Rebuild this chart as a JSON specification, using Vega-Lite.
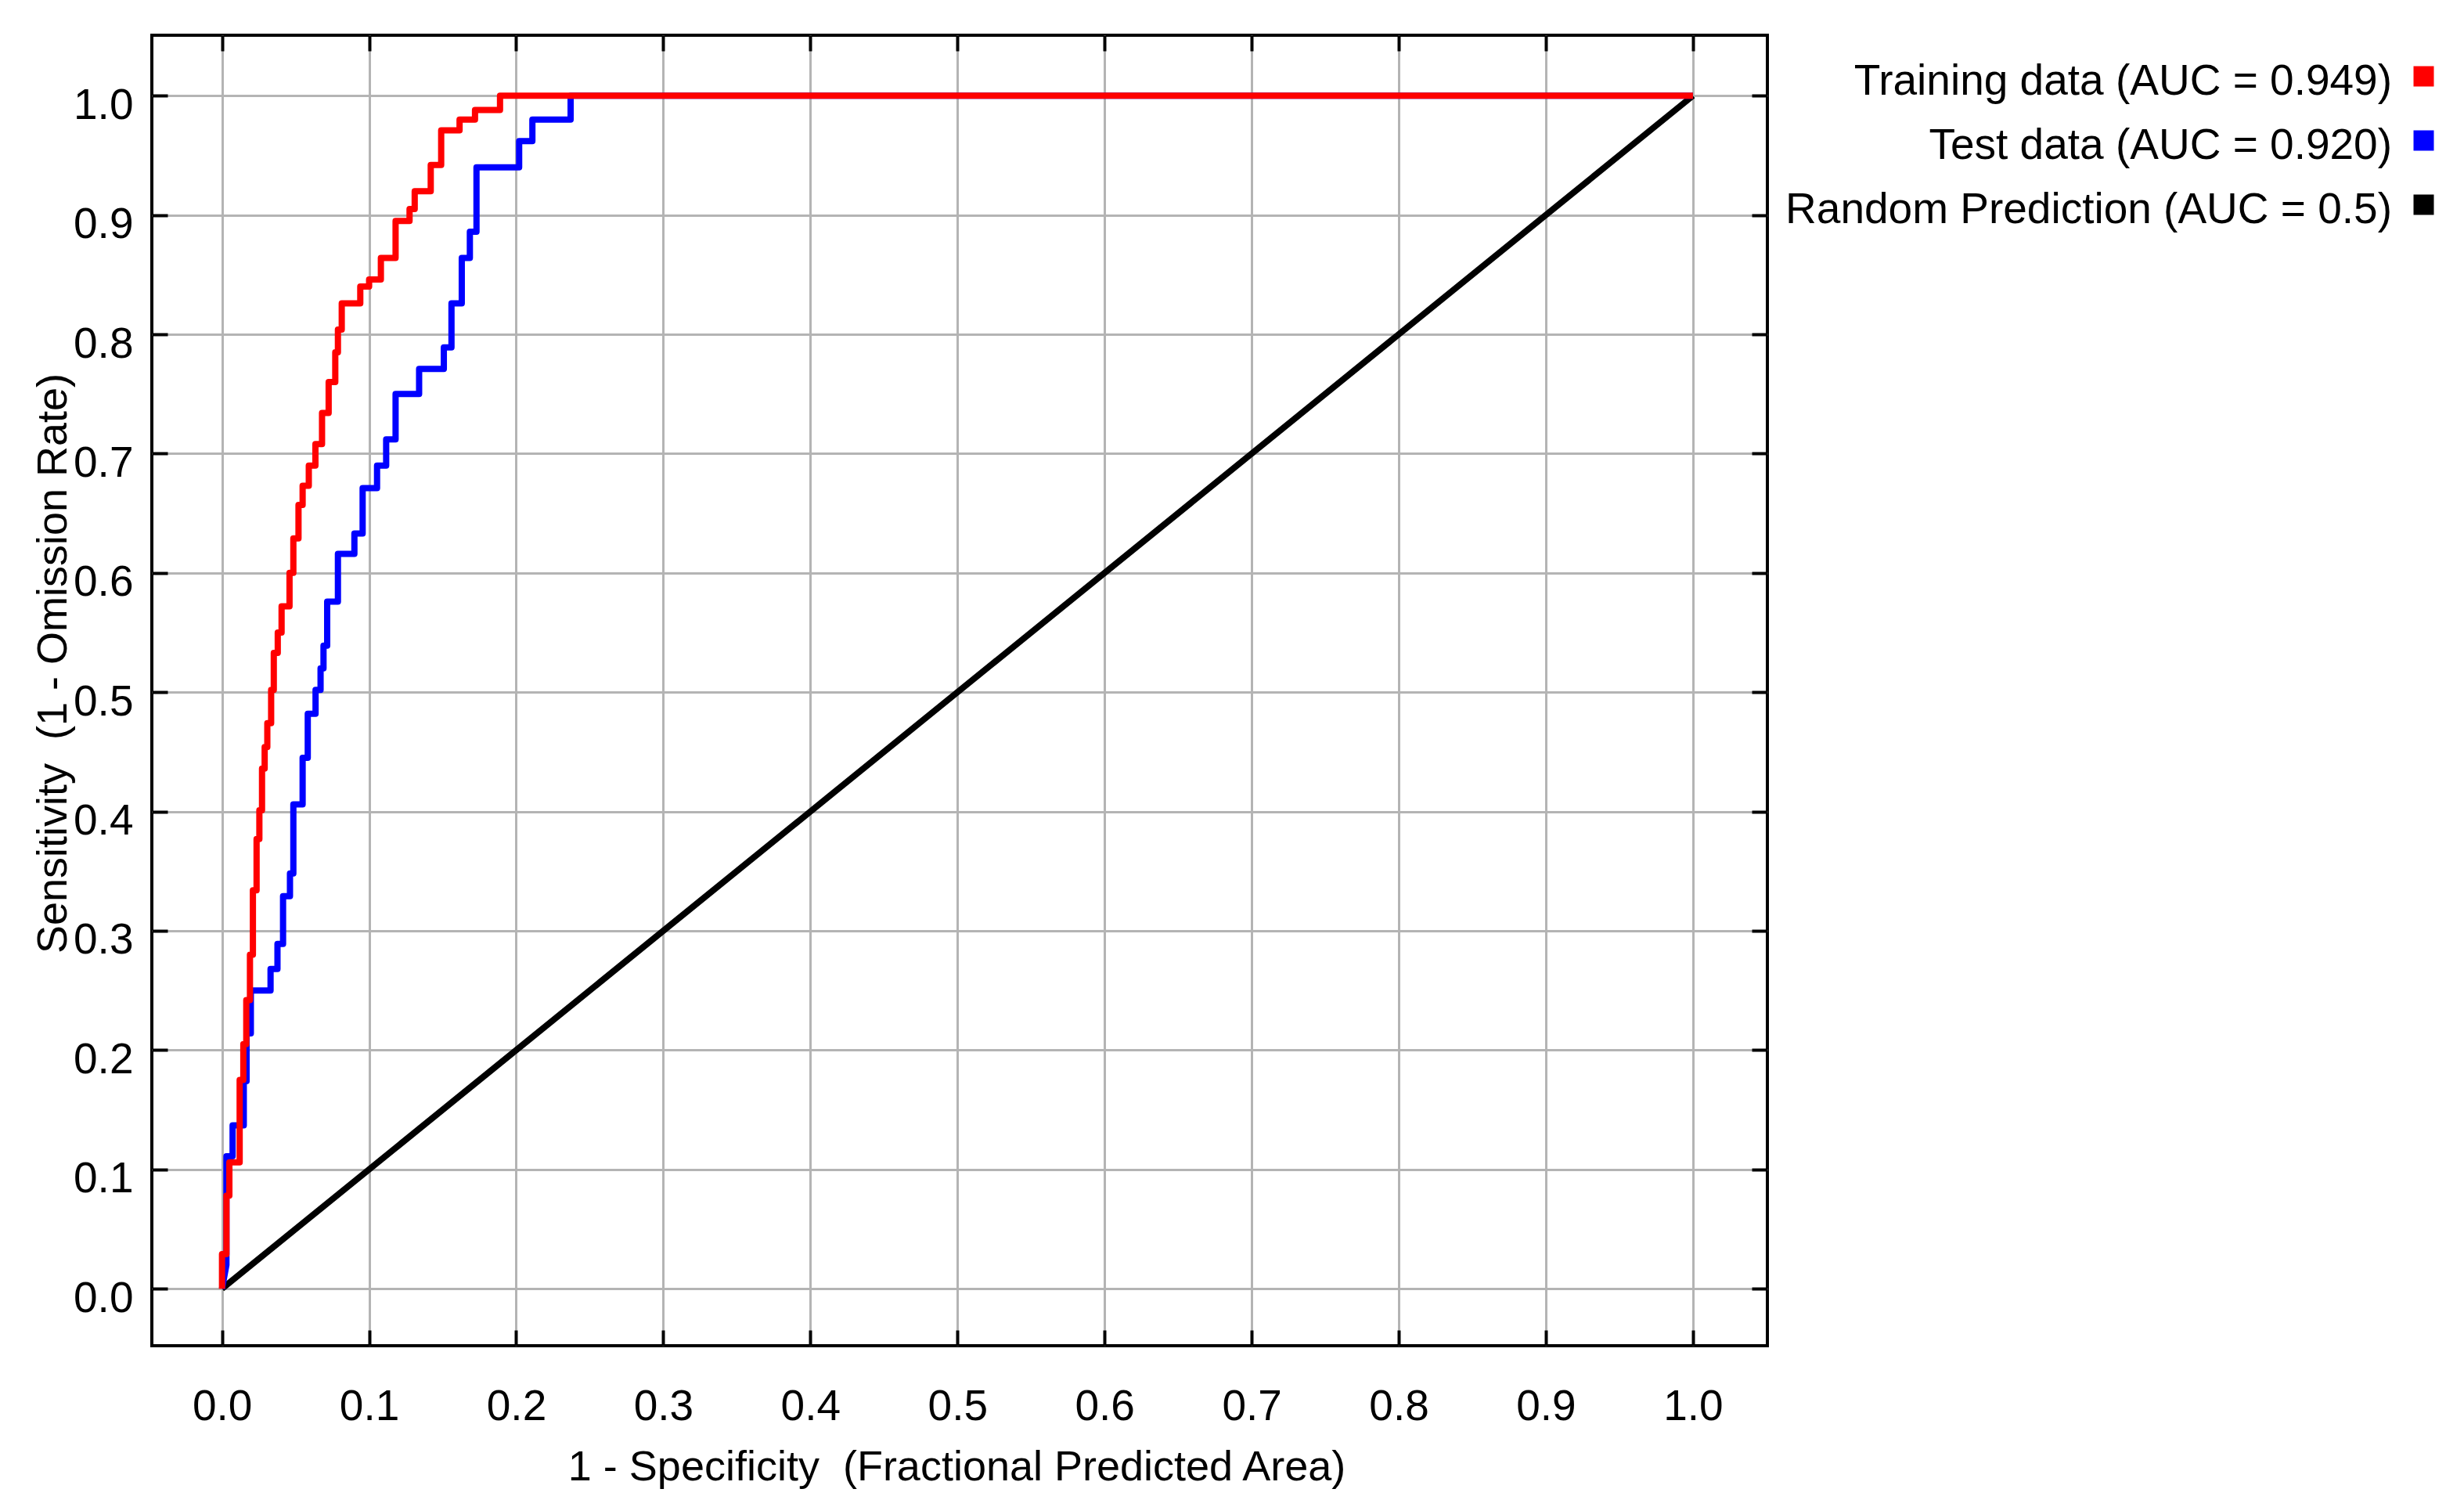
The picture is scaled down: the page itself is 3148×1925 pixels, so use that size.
{
  "$schema": "https://vega.github.io/schema/vega-lite/v6.json",
  "width": 2064,
  "height": 1674,
  "autosize": {"type": "none"},
  "padding": {"left": 194, "top": 45, "right": 890, "bottom": 206},
  "background": "white",
  "config": {
    "font": "Liberation Sans",
    "view": {"stroke": "#000000", "strokeWidth": 4},
    "axis": {
      "labelFont": "Liberation Sans",
      "titleFont": "Liberation Sans",
      "labelColor": "#000000",
      "titleColor": "#000000",
      "titleFontWeight": "normal",
      "gridColor": "#b4b4b4",
      "gridWidth": 3,
      "gridOpacity": 1,
      "tickColor": "#000000",
      "tickWidth": 4,
      "domain": false,
      "labelFontSize": 55,
      "titleFontSize": 54
    }
  },
  "data": {
    "values": [
      {"series": "Random Prediction (AUC = 0.5)", "step": 1, "x": 0, "y": 0},
      {"series": "Random Prediction (AUC = 0.5)", "step": 2, "x": 1, "y": 1},
      {"series": "Test data (AUC = 0.920)", "step": 1, "x": 0, "y": 0},
      {"series": "Test data (AUC = 0.920)", "step": 2, "x": 0.003, "y": 0.02},
      {"series": "Test data (AUC = 0.920)", "step": 3, "x": 0.003, "y": 0.111},
      {"series": "Test data (AUC = 0.920)", "step": 4, "x": 0.0072, "y": 0.111},
      {"series": "Test data (AUC = 0.920)", "step": 5, "x": 0.0072, "y": 0.137},
      {"series": "Test data (AUC = 0.920)", "step": 6, "x": 0.0148, "y": 0.137},
      {"series": "Test data (AUC = 0.920)", "step": 7, "x": 0.0148, "y": 0.174},
      {"series": "Test data (AUC = 0.920)", "step": 8, "x": 0.0167, "y": 0.174},
      {"series": "Test data (AUC = 0.920)", "step": 9, "x": 0.0167, "y": 0.214},
      {"series": "Test data (AUC = 0.920)", "step": 10, "x": 0.0196, "y": 0.214},
      {"series": "Test data (AUC = 0.920)", "step": 11, "x": 0.0196, "y": 0.25},
      {"series": "Test data (AUC = 0.920)", "step": 12, "x": 0.033, "y": 0.25},
      {"series": "Test data (AUC = 0.920)", "step": 13, "x": 0.033, "y": 0.268},
      {"series": "Test data (AUC = 0.920)", "step": 14, "x": 0.0377, "y": 0.268},
      {"series": "Test data (AUC = 0.920)", "step": 15, "x": 0.0377, "y": 0.289},
      {"series": "Test data (AUC = 0.920)", "step": 16, "x": 0.0415, "y": 0.289},
      {"series": "Test data (AUC = 0.920)", "step": 17, "x": 0.0415, "y": 0.329},
      {"series": "Test data (AUC = 0.920)", "step": 18, "x": 0.0462, "y": 0.329},
      {"series": "Test data (AUC = 0.920)", "step": 19, "x": 0.0462, "y": 0.348},
      {"series": "Test data (AUC = 0.920)", "step": 20, "x": 0.0485, "y": 0.348},
      {"series": "Test data (AUC = 0.920)", "step": 21, "x": 0.0485, "y": 0.406},
      {"series": "Test data (AUC = 0.920)", "step": 22, "x": 0.0548, "y": 0.406},
      {"series": "Test data (AUC = 0.920)", "step": 23, "x": 0.0548, "y": 0.445},
      {"series": "Test data (AUC = 0.920)", "step": 24, "x": 0.0583, "y": 0.445},
      {"series": "Test data (AUC = 0.920)", "step": 25, "x": 0.0583, "y": 0.482},
      {"series": "Test data (AUC = 0.920)", "step": 26, "x": 0.0636, "y": 0.482},
      {"series": "Test data (AUC = 0.920)", "step": 27, "x": 0.0636, "y": 0.502},
      {"series": "Test data (AUC = 0.920)", "step": 28, "x": 0.067, "y": 0.502},
      {"series": "Test data (AUC = 0.920)", "step": 29, "x": 0.067, "y": 0.52},
      {"series": "Test data (AUC = 0.920)", "step": 30, "x": 0.069, "y": 0.52},
      {"series": "Test data (AUC = 0.920)", "step": 31, "x": 0.069, "y": 0.539},
      {"series": "Test data (AUC = 0.920)", "step": 32, "x": 0.0715, "y": 0.539},
      {"series": "Test data (AUC = 0.920)", "step": 33, "x": 0.0715, "y": 0.576},
      {"series": "Test data (AUC = 0.920)", "step": 34, "x": 0.0788, "y": 0.576},
      {"series": "Test data (AUC = 0.920)", "step": 35, "x": 0.0788, "y": 0.616},
      {"series": "Test data (AUC = 0.920)", "step": 36, "x": 0.09, "y": 0.616},
      {"series": "Test data (AUC = 0.920)", "step": 37, "x": 0.09, "y": 0.633},
      {"series": "Test data (AUC = 0.920)", "step": 38, "x": 0.0956, "y": 0.633},
      {"series": "Test data (AUC = 0.920)", "step": 39, "x": 0.0956, "y": 0.671},
      {"series": "Test data (AUC = 0.920)", "step": 40, "x": 0.1054, "y": 0.671},
      {"series": "Test data (AUC = 0.920)", "step": 41, "x": 0.1054, "y": 0.69},
      {"series": "Test data (AUC = 0.920)", "step": 42, "x": 0.1116, "y": 0.69},
      {"series": "Test data (AUC = 0.920)", "step": 43, "x": 0.1116, "y": 0.712},
      {"series": "Test data (AUC = 0.920)", "step": 44, "x": 0.118, "y": 0.712},
      {"series": "Test data (AUC = 0.920)", "step": 45, "x": 0.118, "y": 0.75},
      {"series": "Test data (AUC = 0.920)", "step": 46, "x": 0.134, "y": 0.75},
      {"series": "Test data (AUC = 0.920)", "step": 47, "x": 0.134, "y": 0.771},
      {"series": "Test data (AUC = 0.920)", "step": 48, "x": 0.1508, "y": 0.771},
      {"series": "Test data (AUC = 0.920)", "step": 49, "x": 0.1508, "y": 0.789},
      {"series": "Test data (AUC = 0.920)", "step": 50, "x": 0.156, "y": 0.789},
      {"series": "Test data (AUC = 0.920)", "step": 51, "x": 0.156, "y": 0.826},
      {"series": "Test data (AUC = 0.920)", "step": 52, "x": 0.163, "y": 0.826},
      {"series": "Test data (AUC = 0.920)", "step": 53, "x": 0.163, "y": 0.864},
      {"series": "Test data (AUC = 0.920)", "step": 54, "x": 0.1685, "y": 0.864},
      {"series": "Test data (AUC = 0.920)", "step": 55, "x": 0.1685, "y": 0.886},
      {"series": "Test data (AUC = 0.920)", "step": 56, "x": 0.173, "y": 0.886},
      {"series": "Test data (AUC = 0.920)", "step": 57, "x": 0.173, "y": 0.94},
      {"series": "Test data (AUC = 0.920)", "step": 58, "x": 0.202, "y": 0.94},
      {"series": "Test data (AUC = 0.920)", "step": 59, "x": 0.202, "y": 0.962},
      {"series": "Test data (AUC = 0.920)", "step": 60, "x": 0.211, "y": 0.962},
      {"series": "Test data (AUC = 0.920)", "step": 61, "x": 0.211, "y": 0.98},
      {"series": "Test data (AUC = 0.920)", "step": 62, "x": 0.237, "y": 0.98},
      {"series": "Test data (AUC = 0.920)", "step": 63, "x": 0.237, "y": 1.0},
      {"series": "Test data (AUC = 0.920)", "step": 64, "x": 1.0, "y": 1.0},
      {"series": "Training data (AUC = 0.949)", "step": 1, "x": 0, "y": 0},
      {"series": "Training data (AUC = 0.949)", "step": 2, "x": 0, "y": 0.029},
      {"series": "Training data (AUC = 0.949)", "step": 3, "x": 0.003, "y": 0.029},
      {"series": "Training data (AUC = 0.949)", "step": 4, "x": 0.003, "y": 0.078},
      {"series": "Training data (AUC = 0.949)", "step": 5, "x": 0.005, "y": 0.078},
      {"series": "Training data (AUC = 0.949)", "step": 6, "x": 0.005, "y": 0.106},
      {"series": "Training data (AUC = 0.949)", "step": 7, "x": 0.012, "y": 0.106},
      {"series": "Training data (AUC = 0.949)", "step": 8, "x": 0.012, "y": 0.175},
      {"series": "Training data (AUC = 0.949)", "step": 9, "x": 0.0145, "y": 0.175},
      {"series": "Training data (AUC = 0.949)", "step": 10, "x": 0.0145, "y": 0.205},
      {"series": "Training data (AUC = 0.949)", "step": 11, "x": 0.0165, "y": 0.205},
      {"series": "Training data (AUC = 0.949)", "step": 12, "x": 0.0165, "y": 0.242},
      {"series": "Training data (AUC = 0.949)", "step": 13, "x": 0.019, "y": 0.242},
      {"series": "Training data (AUC = 0.949)", "step": 14, "x": 0.019, "y": 0.28},
      {"series": "Training data (AUC = 0.949)", "step": 15, "x": 0.021, "y": 0.28},
      {"series": "Training data (AUC = 0.949)", "step": 16, "x": 0.021, "y": 0.334},
      {"series": "Training data (AUC = 0.949)", "step": 17, "x": 0.0235, "y": 0.334},
      {"series": "Training data (AUC = 0.949)", "step": 18, "x": 0.0235, "y": 0.377},
      {"series": "Training data (AUC = 0.949)", "step": 19, "x": 0.0254, "y": 0.377},
      {"series": "Training data (AUC = 0.949)", "step": 20, "x": 0.0254, "y": 0.401},
      {"series": "Training data (AUC = 0.949)", "step": 21, "x": 0.0272, "y": 0.401},
      {"series": "Training data (AUC = 0.949)", "step": 22, "x": 0.0272, "y": 0.436},
      {"series": "Training data (AUC = 0.949)", "step": 23, "x": 0.029, "y": 0.436},
      {"series": "Training data (AUC = 0.949)", "step": 24, "x": 0.029, "y": 0.454},
      {"series": "Training data (AUC = 0.949)", "step": 25, "x": 0.0308, "y": 0.454},
      {"series": "Training data (AUC = 0.949)", "step": 26, "x": 0.0308, "y": 0.474},
      {"series": "Training data (AUC = 0.949)", "step": 27, "x": 0.0334, "y": 0.474},
      {"series": "Training data (AUC = 0.949)", "step": 28, "x": 0.0334, "y": 0.502},
      {"series": "Training data (AUC = 0.949)", "step": 29, "x": 0.0352, "y": 0.502},
      {"series": "Training data (AUC = 0.949)", "step": 30, "x": 0.0352, "y": 0.533},
      {"series": "Training data (AUC = 0.949)", "step": 31, "x": 0.0379, "y": 0.533},
      {"series": "Training data (AUC = 0.949)", "step": 32, "x": 0.0379, "y": 0.55},
      {"series": "Training data (AUC = 0.949)", "step": 33, "x": 0.0405, "y": 0.55},
      {"series": "Training data (AUC = 0.949)", "step": 34, "x": 0.0405, "y": 0.572},
      {"series": "Training data (AUC = 0.949)", "step": 35, "x": 0.0459, "y": 0.572},
      {"series": "Training data (AUC = 0.949)", "step": 36, "x": 0.0459, "y": 0.6},
      {"series": "Training data (AUC = 0.949)", "step": 37, "x": 0.0485, "y": 0.6},
      {"series": "Training data (AUC = 0.949)", "step": 38, "x": 0.0485, "y": 0.629},
      {"series": "Training data (AUC = 0.949)", "step": 39, "x": 0.052, "y": 0.629},
      {"series": "Training data (AUC = 0.949)", "step": 40, "x": 0.052, "y": 0.657},
      {"series": "Training data (AUC = 0.949)", "step": 41, "x": 0.0548, "y": 0.657},
      {"series": "Training data (AUC = 0.949)", "step": 42, "x": 0.0548, "y": 0.673},
      {"series": "Training data (AUC = 0.949)", "step": 43, "x": 0.059, "y": 0.673},
      {"series": "Training data (AUC = 0.949)", "step": 44, "x": 0.059, "y": 0.69},
      {"series": "Training data (AUC = 0.949)", "step": 45, "x": 0.0635, "y": 0.69},
      {"series": "Training data (AUC = 0.949)", "step": 46, "x": 0.0635, "y": 0.708},
      {"series": "Training data (AUC = 0.949)", "step": 47, "x": 0.068, "y": 0.708},
      {"series": "Training data (AUC = 0.949)", "step": 48, "x": 0.068, "y": 0.734},
      {"series": "Training data (AUC = 0.949)", "step": 49, "x": 0.0725, "y": 0.734},
      {"series": "Training data (AUC = 0.949)", "step": 50, "x": 0.0725, "y": 0.76},
      {"series": "Training data (AUC = 0.949)", "step": 51, "x": 0.077, "y": 0.76},
      {"series": "Training data (AUC = 0.949)", "step": 52, "x": 0.077, "y": 0.785},
      {"series": "Training data (AUC = 0.949)", "step": 53, "x": 0.0788, "y": 0.785},
      {"series": "Training data (AUC = 0.949)", "step": 54, "x": 0.0788, "y": 0.804},
      {"series": "Training data (AUC = 0.949)", "step": 55, "x": 0.0814, "y": 0.804},
      {"series": "Training data (AUC = 0.949)", "step": 56, "x": 0.0814, "y": 0.826},
      {"series": "Training data (AUC = 0.949)", "step": 57, "x": 0.094, "y": 0.826},
      {"series": "Training data (AUC = 0.949)", "step": 58, "x": 0.094, "y": 0.84},
      {"series": "Training data (AUC = 0.949)", "step": 59, "x": 0.1, "y": 0.84},
      {"series": "Training data (AUC = 0.949)", "step": 60, "x": 0.1, "y": 0.846},
      {"series": "Training data (AUC = 0.949)", "step": 61, "x": 0.108, "y": 0.846},
      {"series": "Training data (AUC = 0.949)", "step": 62, "x": 0.108, "y": 0.864},
      {"series": "Training data (AUC = 0.949)", "step": 63, "x": 0.118, "y": 0.864},
      {"series": "Training data (AUC = 0.949)", "step": 64, "x": 0.118, "y": 0.895},
      {"series": "Training data (AUC = 0.949)", "step": 65, "x": 0.1275, "y": 0.895},
      {"series": "Training data (AUC = 0.949)", "step": 66, "x": 0.1275, "y": 0.905},
      {"series": "Training data (AUC = 0.949)", "step": 67, "x": 0.131, "y": 0.905},
      {"series": "Training data (AUC = 0.949)", "step": 68, "x": 0.131, "y": 0.92},
      {"series": "Training data (AUC = 0.949)", "step": 69, "x": 0.1419, "y": 0.92},
      {"series": "Training data (AUC = 0.949)", "step": 70, "x": 0.1419, "y": 0.942},
      {"series": "Training data (AUC = 0.949)", "step": 71, "x": 0.149, "y": 0.942},
      {"series": "Training data (AUC = 0.949)", "step": 72, "x": 0.149, "y": 0.971},
      {"series": "Training data (AUC = 0.949)", "step": 73, "x": 0.1615, "y": 0.971},
      {"series": "Training data (AUC = 0.949)", "step": 74, "x": 0.1615, "y": 0.98},
      {"series": "Training data (AUC = 0.949)", "step": 75, "x": 0.172, "y": 0.98},
      {"series": "Training data (AUC = 0.949)", "step": 76, "x": 0.172, "y": 0.988},
      {"series": "Training data (AUC = 0.949)", "step": 77, "x": 0.189, "y": 0.988},
      {"series": "Training data (AUC = 0.949)", "step": 78, "x": 0.189, "y": 1.0},
      {"series": "Training data (AUC = 0.949)", "step": 79, "x": 1.0, "y": 1.0}
    ]
  },
  "resolve": {"axis": {"x": "independent", "y": "independent"}},
  "layer": [
    {
      "transform": [{"filter": "datum.series === 'Random Prediction (AUC = 0.5)'"}],
      "mark": {"type": "line", "strokeWidth": 8, "strokeJoin": "round"},
      "encoding": {
        "x": {
          "field": "x", "type": "quantitative",
          "scale": {"domain": [-0.0477, 1.0506], "nice": false, "zero": false},
          "axis": {
            "orient": "bottom",
            "values": [0, 0.1, 0.2, 0.3, 0.4, 0.5, 0.6, 0.7, 0.8, 0.9, 1],
            "format": ".1f",
            "grid": true,
            "ticks": true,
            "tickSize": -20,
            "labelPadding": 71,
            "title": "1 - Specificity\u00a0 (Fractional Predicted Area)",
            "titleX": 1028,
            "titleY": 171,
            "titleAlign": "center",
            "titleBaseline": "alphabetic"
          }
        },
        "y": {
          "field": "y", "type": "quantitative",
          "scale": {"domain": [-0.0478, 1.0507], "nice": false, "zero": false},
          "axis": {
            "orient": "left",
            "values": [0, 0.1, 0.2, 0.3, 0.4, 0.5, 0.6, 0.7, 0.8, 0.9, 1],
            "format": ".1f",
            "grid": true,
            "ticks": true,
            "tickSize": -20,
            "labelPadding": 44,
            "labelOffset": 12,
            "title": "Sensitivity\u00a0 (1 - Omission Rate)",
            "titleX": -110,
            "titleY": 802,
            "titleAngle": -90,
            "titleAlign": "center",
            "titleBaseline": "alphabetic"
          }
        },
        "color": {
          "field": "series", "type": "nominal",
          "scale": {
            "domain": ["Training data (AUC = 0.949)", "Test data (AUC = 0.920)", "Random Prediction (AUC = 0.5)"],
            "range": ["#ff0000", "#0000ff", "#000000"]
          },
          "legend": {
            "title": null,
            "orient": "none",
            "legendX": 2875,
            "legendY": 25,
            "padding": 0,
            "symbolType": "square",
            "symbolSize": 676,
            "symbolStrokeWidth": 0,
            "labelFont": "Liberation Sans",
            "labelFontSize": 55,
            "labelColor": "#000000",
            "labelAlign": "right",
            "labelOffset": -68,
            "labelLimit": 2000,
            "rowPadding": 20,
            "encode": {
              "symbols": {"update": {"fill": {"scale": "color", "field": "value"}, "stroke": {"value": "transparent"}}},
              "labels": {"update": {"dy": {"value": 6}}}
            }
          }
        },
        "order": {"field": "step", "type": "quantitative"}
      }
    },
    {
      "transform": [{"filter": "datum.series === 'Test data (AUC = 0.920)'"}],
      "mark": {"type": "line", "strokeWidth": 8, "strokeJoin": "round"},
      "encoding": {
        "x": {
          "field": "x", "type": "quantitative",
          "axis": {"orient": "top", "values": [0, 0.1, 0.2, 0.3, 0.4, 0.5, 0.6, 0.7, 0.8, 0.9, 1], "labels": false, "grid": false, "ticks": true, "tickSize": -20, "title": null}
        },
        "y": {
          "field": "y", "type": "quantitative",
          "axis": {"orient": "right", "values": [0, 0.1, 0.2, 0.3, 0.4, 0.5, 0.6, 0.7, 0.8, 0.9, 1], "labels": false, "grid": false, "ticks": true, "tickSize": -20, "title": null}
        },
        "color": {"field": "series", "type": "nominal", "legend": null},
        "order": {"field": "step", "type": "quantitative"}
      }
    },
    {
      "transform": [{"filter": "datum.series === 'Training data (AUC = 0.949)'"}],
      "mark": {"type": "line", "strokeWidth": 8, "strokeJoin": "round"},
      "encoding": {
        "x": {"field": "x", "type": "quantitative", "axis": null},
        "y": {"field": "y", "type": "quantitative", "axis": null},
        "color": {"field": "series", "type": "nominal", "legend": null},
        "order": {"field": "step", "type": "quantitative"}
      }
    }
  ]
}
